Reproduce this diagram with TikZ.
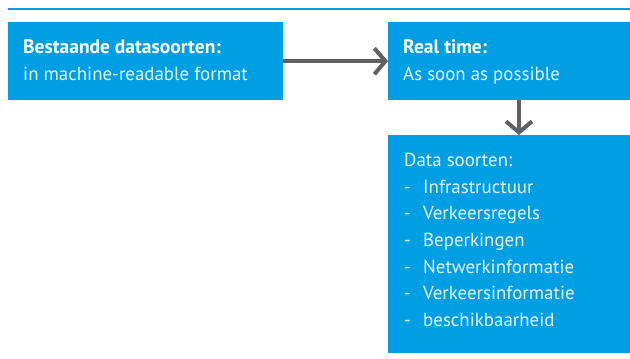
\documentclass[tikz,border=0pt]{standalone}
\usepackage{fontspec}
\setmainfont{PT Sans}
\usetikzlibrary{arrows.meta}
\definecolor{rblue}{HTML}{009FE3}
\definecolor{rgray}{HTML}{606060}
\definecolor{rtext}{HTML}{E6F4FC}
\begin{document}
\begin{tikzpicture}[x=1pt,y=-1pt,
  box/.style={fill=rblue,draw=none,rectangle,inner sep=0pt,anchor=north west},
  txt/.style={anchor=base west,inner sep=0pt,text=rtext,font=\fontsize{18.9}{22}\selectfont},
  hd/.style={anchor=base west,inner sep=0pt,text=white,font=\fontsize{19.5}{22}\selectfont\bfseries},
  conn/.style={draw=rgray,line width=4pt,-{Straight Barb[length=11pt,width=26pt]}}]
\useasboundingbox (0,0) rectangle (630,359);
\fill[white] (0,0) rectangle (630,359);
\draw[rblue,line width=1.2pt] (8,9) -- (630,9);
\node[box,minimum width=275pt,minimum height=78pt] (b1) at (8,22) {};
\node[box,minimum width=242pt,minimum height=78pt] (b2) at (388,22) {};
\node[box,minimum width=242pt,minimum height=218pt] (b3) at (388,135) {};
\node[hd] (t1) at (23,53) {Bestaande datasoorten:};
\node[txt] (t2) at (23,80) {in machine-readable format};
\node[hd] (t3) at (403,53) {Real time:};
\node[txt] (t4) at (403,80) {As soon as possible};
\node[txt] (d0) at (404,166) {Data soorten:};
\foreach \i/\y/\w in {1/193/Infrastructuur,2/219/Verkeersregels,3/246/Beperkingen,4/273/Netwerkinformatie,5/299/Verkeersinformatie,6/326/beschikbaarheid}{
  \node[txt] (m\i) at (404,\y) {-};
  \node[txt] (d\i) at (423,\y) {\w};
}
\coordinate (ax) at (519,0);
\draw[conn] (b1.east) -- (b2.west);
\draw[conn] (b2.south -| ax) -- (b3.north -| ax);
\end{tikzpicture}
\end{document}
